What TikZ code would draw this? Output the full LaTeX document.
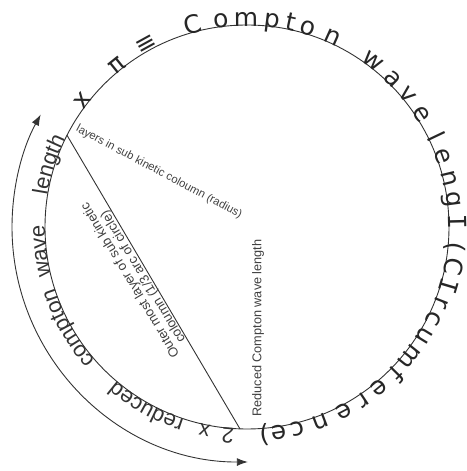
\documentclass[tikz,border=0pt]{standalone}
\usepackage{fontspec}
\setmainfont{Liberation Sans}
\newfontfamily\bigface{DejaVu Sans}
\newfontfamily\monoface{DejaVu Sans Mono}
\usetikzlibrary{arrows.meta,decorations.text}
\begin{document}
\begin{tikzpicture}[x=1pt,y=1pt,
  ink/.style={draw=black!80, line width=0.9pt},
  bigchar/.style={inner sep=0pt, outer sep=0pt, anchor=base, font=\bigface\fontsize{25}{27}\selectfont, text=black!85},
  smalltext/.style={inner sep=0pt, text=black!75},
  arcword/.style={decorate, decoration={text along path, text align=left, text color=black!80, text={|\fontsize{22}{24}\selectfont|#1}}},
  tip/.style={Latex[length=11pt,width=8pt]}
]
\useasboundingbox (0,0) rectangle (466,471);
\node[circle, ink, minimum size=404pt, inner sep=0pt, outer sep=0pt] (circ) at (247,244) {};
\coordinate (chordA) at (circ.153.7);
\coordinate (chordB) at (circ.268.6);
\draw[ink] (chordA) -- (chordB);
\begin{scope}[shift={(circ.center)}]
  \draw[ink, {Latex[length=11pt,width=8pt]}-{Latex[length=11pt,width=8pt]}] (270.2:235) arc[start angle=270.2, end angle=151.4, radius=235];
  \foreach \ch/\ang [count=\i] in {x/142.4, π/128.8, ≡/118.8, C/105.0, o/97.1, m/90.3, p/82.9, t/77.9, o/73.1, n/65.8, w/52.9, a/45.6, v/39.4, e/32.8, l/25.5, e/19.8, n/13.6, g/7.5, {\monoface I}/1.4, {(}/-5.5, C/-10.8, {\monoface I}/-16.5, r/-21.3, c/-26.3, u/-31.5, m/-38.6, f/-44.6, e/-50.6, r/-56.2, e/-62.3, n/-69.2, c/-75.8, e/-81.2, {)}/-85.2}
    \node[bigchar, rotate=\ang-90] (big\i) at (\ang:201) {\ch};
  \path[arcword=2] (266.5:202) arc[start angle=266.5, end angle=240, radius=202];
  \path[arcword=x] (259.8:202) arc[start angle=259.8, end angle=235, radius=202];
  \path[arcword=reduced] (252:202) arc[start angle=252, end angle=200, radius=202];
  \path[arcword=compton] (221.5:202) arc[start angle=221.5, end angle=170, radius=202];
  \path[arcword=wave] (194:202) arc[start angle=194, end angle=150, radius=202];
  \path[arcword=length] (171:202) arc[start angle=171, end angle=120, radius=202];
\end{scope}
\node[smalltext, font=\fontsize{12.7}{14}\selectfont, rotate=90] (reduced) at (258,143) {Reduced Compton wave length};
\node[smalltext, font=\fontsize{11.3}{13}\selectfont, rotate=-28] (layers) at (159,299) {layers in sub kinetic coloumn (radius)};
\node[smalltext, anchor=base, font=\fontsize{13.2}{15}\selectfont, rotate=121.1] (arcnote) at (146.4,196.2) {coloumn (1/3 arc of circle)};
\node[smalltext, anchor=base, font=\fontsize{13.2}{15}\selectfont, rotate=121.1] (outer) at (133.5,192.5) {Outer most layer of sub kinetic};
\end{tikzpicture}
\end{document}
